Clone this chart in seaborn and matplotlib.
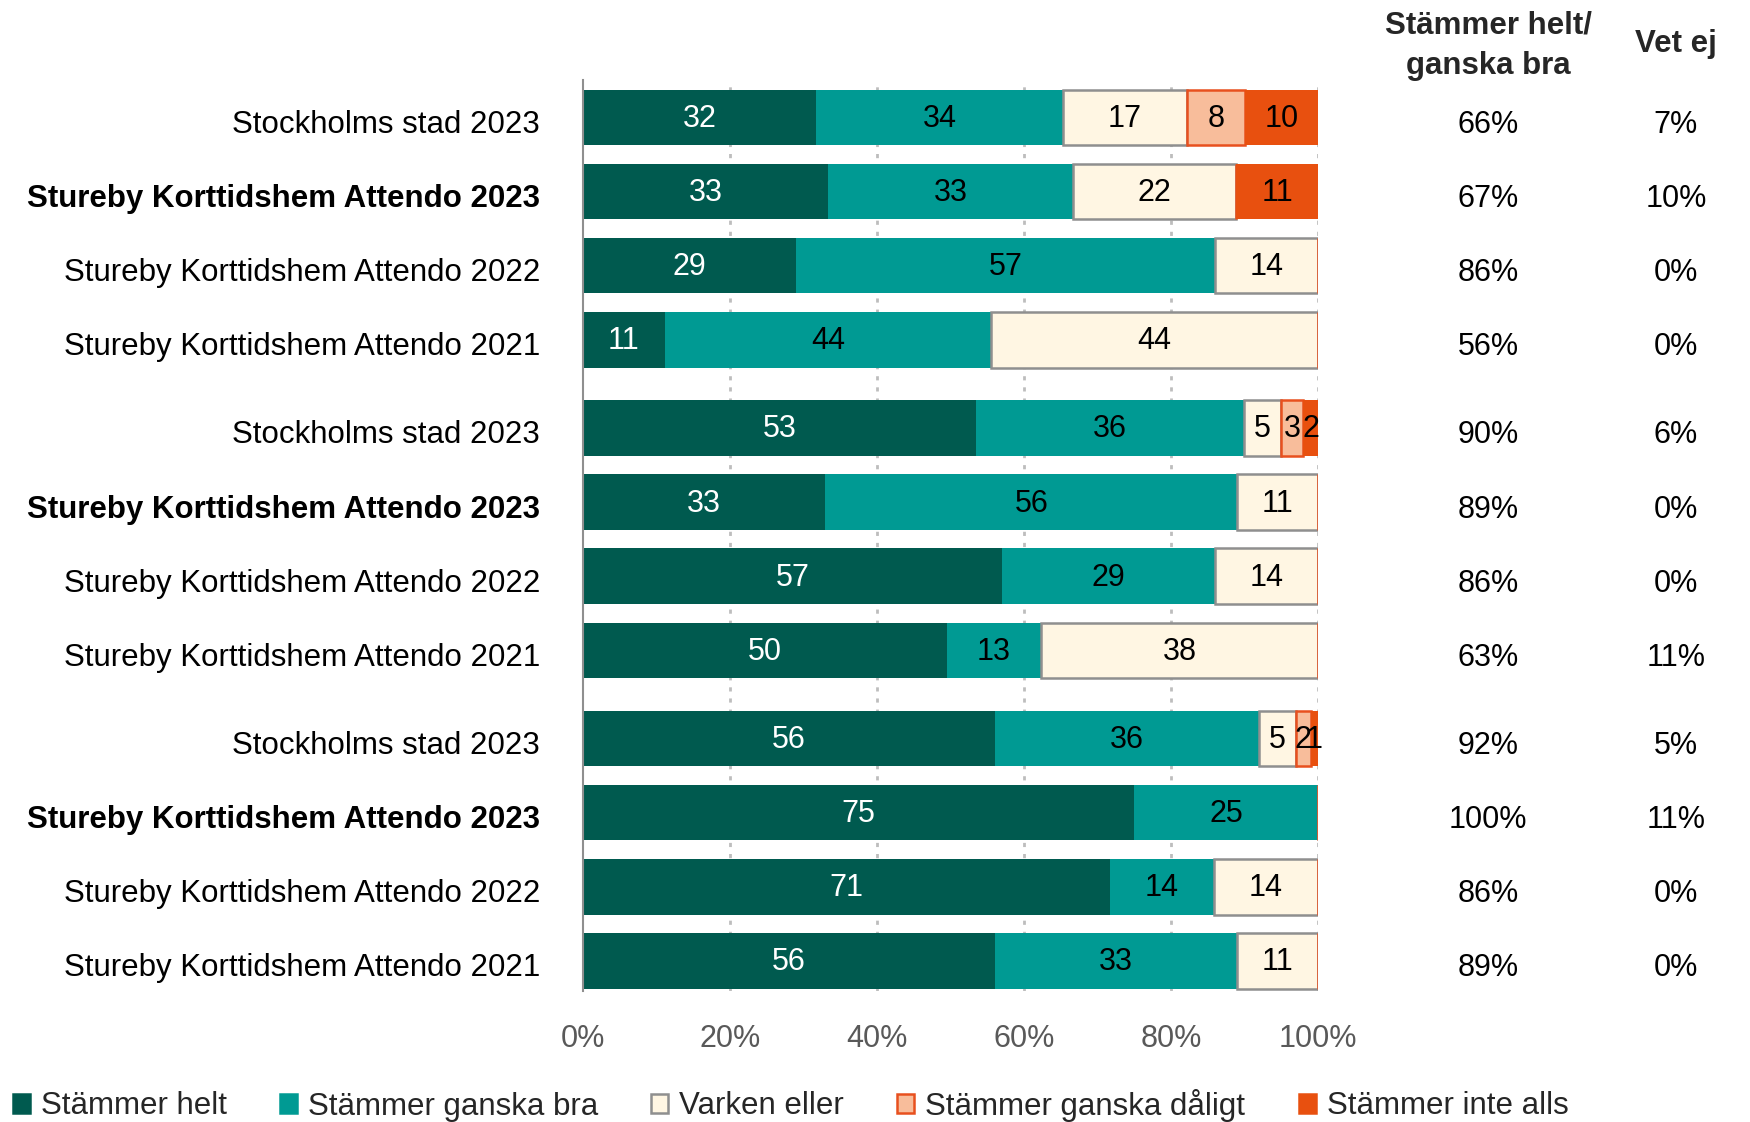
import matplotlib
matplotlib.use("Agg")
import matplotlib.pyplot as plt
from matplotlib.patches import Patch
import matplotlib.transforms as mtransforms
import seaborn as sns
import numpy as np

# ---------------- data ----------------
row_labels = ["Stockholms stad 2023", "Stureby Korttidshem Attendo 2023",
              "Stureby Korttidshem Attendo 2022", "Stureby Korttidshem Attendo 2021"] * 3
bold_rows = [False, True, False, False] * 3
series_names = ["Stämmer helt", "Stämmer ganska bra", "Varken eller",
                "Stämmer ganska dåligt", "Stämmer inte alls"]
helt = [32, 33, 29, 11, 53, 33, 57, 50, 56, 75, 71, 56]
ganska_bra = [34, 33, 57, 44, 36, 56, 29, 13, 36, 25, 14, 33]
varken = [17, 22, 14, 44, 5, 11, 14, 38, 5, 0, 14, 11]
ganska_daligt = [8, 0, 0, 0, 3, 0, 0, 0, 2, 0, 0, 0]
inte_alls = [10, 11, 0, 0, 2, 0, 0, 0, 1, 0, 0, 0]
helt_bra_pct = ["66%", "67%", "86%", "56%", "90%", "89%", "86%", "63%",
                "92%", "100%", "86%", "89%"]
vet_ej_pct = ["7%", "10%", "0%", "0%", "6%", "0%", "0%", "11%",
              "5%", "11%", "0%", "0%"]
x_ticks = [0, 20, 40, 60, 80, 100]
x_ticklabels = ["0%", "20%", "40%", "60%", "80%", "100%"]

# ---------------- style ----------------
sns.set_theme(style="white")
plt.rcParams["font.family"] = ["Liberation Sans", "DejaVu Sans"]
NARROW = ["Liberation Sans Narrow", "Liberation Sans", "DejaVu Sans"]

colors = ["#005A4F", "#009A93", "#FFF6E3", "#F8BD9B", "#E8500F"]
edges = [None, None, "#8F8F8F", "#E8501E", None]
text_colors = ["white", "black", "black", "black", "black"]

fig = plt.figure(figsize=(17.5, 11.22), dpi=100)
ax = fig.add_axes([0.3331, 0.1168, 0.4200, 0.8119])

# y positions: groups of four with a small gap
gap = 0.19
ypos = np.array([g * (4 + gap) + i for g in range(3) for i in range(4)])

data = np.array([helt, ganska_bra, varken, ganska_daligt, inte_alls], dtype=float)
totals = data.sum(axis=0)
norm = data / totals * 100
left = np.zeros(len(ypos))
bar_h = 0.75
for k in range(5):
    w = norm[k]
    kwargs = dict(color=colors[k], height=bar_h, zorder=3)
    if edges[k]:
        kwargs.update(edgecolor=edges[k], linewidth=1.8)
    else:
        kwargs.update(linewidth=0)
    ax.barh(ypos, w, left=left, **kwargs)
    for j in range(len(ypos)):
        if data[k, j] > 0:
            ax.text(left[j] + w[j] / 2, ypos[j] + 0.02, f"{int(data[k, j])}",
                    ha="center", va="center", fontsize=22,
                    color=text_colors[k], family=NARROW, zorder=5)
    left = left + w

ax.set_xlim(0, 100)
ax.set_ylim(ypos[-1] + bar_h / 2 + 0.03, ypos[0] - bar_h / 2 - 0.13)
ax.set_xticks(x_ticks)
ax.set_xticklabels(x_ticklabels, fontsize=22, color="#595959")
ax.set_yticks([])
ax.tick_params(axis="x", length=0, pad=24)

# row labels (drawn as text to allow a slight vertical offset like the original)
ytrans = mtransforms.blended_transform_factory(ax.transAxes, ax.transData)
for j, y in enumerate(ypos):
    ax.text(-0.0585, y + 0.1, row_labels[j], transform=ytrans, ha="right",
            va="center", fontsize=22.5, color="black",
            fontweight="bold" if bold_rows[j] else "normal")

for s in ["top", "right", "bottom"]:
    ax.spines[s].set_visible(False)
ax.spines["left"].set_color("#8F8F8F")
ax.spines["left"].set_linewidth(1.5)
ax.spines["left"].set_zorder(6)

for xv in x_ticks[1:]:
    ax.axvline(xv, color="#BDBDBD", linestyle=(0, (1.5, 2.5)), linewidth=2, zorder=1)
ax.set_axisbelow(True)

# right-hand columns
trans = mtransforms.blended_transform_factory(fig.transFigure, ax.transData)
for j, y in enumerate(ypos):
    ax.text(0.8503, y + 0.1, helt_bra_pct[j], transform=trans, ha="center",
            va="center", fontsize=22, color="black")
    ax.text(0.9577, y + 0.1, vet_ej_pct[j], transform=trans, ha="center",
            va="center", fontsize=22, color="black")
fig.text(0.8503, 1 - 25 / 1122, "Stämmer helt/", ha="center", va="center",
         fontsize=22.5, fontweight="bold")
fig.text(0.8503, 1 - 66 / 1122, "ganska bra", ha="center", va="center",
         fontsize=22.5, fontweight="bold")
fig.text(0.9577, 1 - 44 / 1122, "Vet ej", ha="center", va="center",
         fontsize=22.5, fontweight="bold")

# legend
handles = []
for k in range(5):
    handles.append(Patch(facecolor=colors[k],
                         edgecolor=edges[k] if edges[k] else colors[k],
                         linewidth=1.8, label=series_names[k]))
leg = fig.legend(handles=handles, loc="center left", bbox_to_anchor=(0.0, 1 - 1105 / 1122),
                 ncol=5, frameon=False, handlelength=0.55, handleheight=0.55,
                 handletextpad=0.35, columnspacing=1.7, borderaxespad=0,
                 prop={"family": NARROW, "size": 22.5})

fig.savefig("out.png", dpi=100, facecolor="white")
